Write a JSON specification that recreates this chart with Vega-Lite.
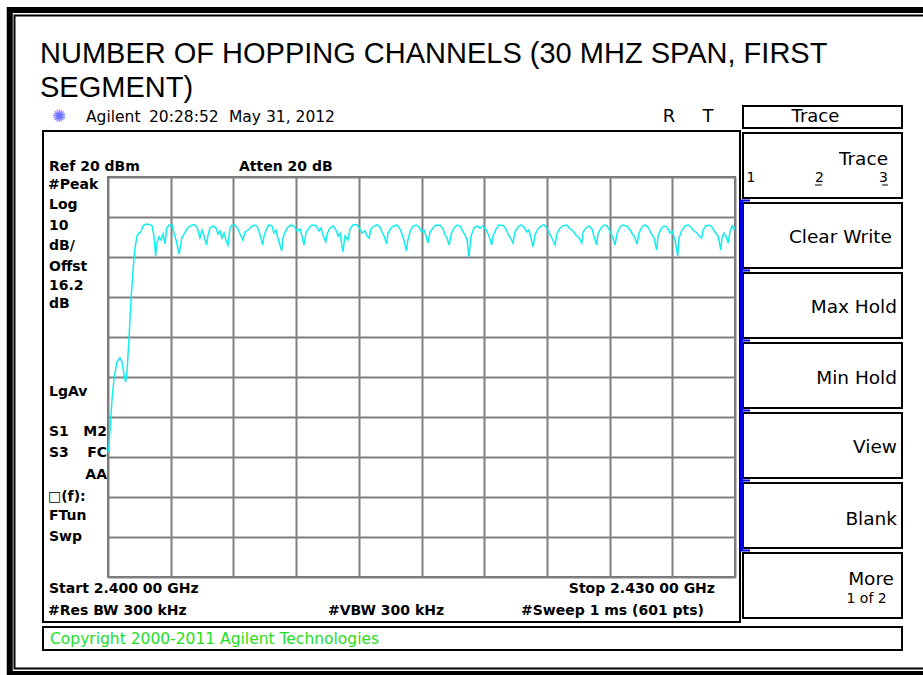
{
  "$schema": "https://vega.github.io/schema/vega-lite/v6.json",
  "width": 627,
  "height": 400,
  "autosize": {"type": "none"},
  "padding": {"left": 108, "top": 177, "right": 188, "bottom": 98},
  "background": "white",
  "config": {
    "view": {"stroke": "#6e6e6e", "strokeWidth": 2}
  },
  "encoding": {
    "x": {
      "field": "f",
      "type": "quantitative",
      "scale": {"domain": [2400, 2430], "nice": false, "zero": false},
      "axis": {
        "values": [2400, 2403, 2406, 2409, 2412, 2415, 2418, 2421, 2424, 2427, 2430],
        "grid": true, "gridColor": "#808080", "gridWidth": 2, "gridOpacity": 1,
        "labels": false, "ticks": false, "domain": false, "title": null
      }
    },
    "y": {
      "field": "db",
      "type": "quantitative",
      "scale": {"domain": [-80, 20], "nice": false, "zero": false},
      "axis": {
        "values": [-80, -70, -60, -50, -40, -30, -20, -10, 0, 10, 20],
        "grid": true, "gridColor": "#808080", "gridWidth": 2, "gridOpacity": 1,
        "labels": false, "ticks": false, "domain": false, "title": null
      }
    }
  },
  "layer": [
    {
      "data": {"values": [{"f": 2395.299, "f2": 2440.77, "db": 61.75, "db2": -104.25}]},
      "mark": {"type": "rect", "fill": "transparent", "stroke": "#000000", "strokeWidth": 6},
      "encoding": {"x2": {"field": "f2"}, "y2": {"field": "db2"}}
    },
    {
      "data": {"values": [{"f": 2395.526, "f2": 2440.77, "db": 60.375, "db2": -102.875}]},
      "mark": {"type": "rect", "fill": "transparent", "stroke": "#000000", "strokeWidth": 2},
      "encoding": {"x2": {"field": "f2"}, "y2": {"field": "db2"}}
    },
    {
      "data": {"values": [
        {"t": "NUMBER OF HOPPING CHANNELS (30 MHZ SPAN, FIRST", "f": 2396.746, "db": 48.5},
        {"t": "SEGMENT)", "f": 2396.746, "db": 40.0}
      ]},
      "mark": {"type": "text", "font": "Liberation Sans", "fontSize": 29, "align": "left", "baseline": "alphabetic", "color": "#000000"},
      "encoding": {"text": {"field": "t"}}
    },
    {
      "data": {"values": [
        {"box": "screen", "f": 2396.89, "f2": 2430.239, "db": 31.5, "db2": -91.25},
        {"box": "copyright", "f": 2396.89, "f2": 2437.99, "db": -92.5, "db2": -98.25},
        {"box": "menu title", "f": 2430.383, "f2": 2437.99, "db": 37.75, "db2": 32.25},
        {"box": "Trace 1 2 3", "f": 2430.383, "f2": 2437.99, "db": 31.0, "db2": 14.75},
        {"box": "Clear Write", "f": 2430.383, "f2": 2437.99, "db": 13.5, "db2": -2.75},
        {"box": "Max Hold", "f": 2430.383, "f2": 2437.99, "db": -4.0, "db2": -20.25},
        {"box": "Min Hold", "f": 2430.383, "f2": 2437.99, "db": -21.5, "db2": -37.75},
        {"box": "View", "f": 2430.383, "f2": 2437.99, "db": -39.0, "db2": -55.25},
        {"box": "Blank", "f": 2430.383, "f2": 2437.99, "db": -56.5, "db2": -72.75},
        {"box": "More", "f": 2430.383, "f2": 2437.99, "db": -74.0, "db2": -90.25}
      ]},
      "mark": {"type": "rect", "fill": "transparent", "stroke": "#000000", "strokeWidth": 2},
      "encoding": {"x2": {"field": "f2"}, "y2": {"field": "db2"}}
    },
    {
      "data": {"values": [{"f": 2430.311, "db": 14.25, "db2": -73.5}]},
      "mark": {"type": "rule", "color": "#0000ee", "strokeWidth": 3},
      "encoding": {"y2": {"field": "db2"}}
    },
    {
      "data": {"values": [
        {"f": 2430.239, "f2": 2430.718, "db": 14.125},
        {"f": 2430.239, "f2": 2430.718, "db": -3.375},
        {"f": 2430.239, "f2": 2430.718, "db": -20.875},
        {"f": 2430.239, "f2": 2430.718, "db": -38.375},
        {"f": 2430.239, "f2": 2430.718, "db": -55.875},
        {"f": 2430.239, "f2": 2430.718, "db": -73.375}
      ]},
      "mark": {"type": "rule", "color": "#0000ee", "strokeWidth": 2},
      "encoding": {"x2": {"field": "f2"}}
    },
    {
      "data": {"values": [
        {"f": 2433.83, "f2": 2434.16, "db": 18.0},
        {"f": 2437.03, "f2": 2437.32, "db": 18.0}
      ]},
      "mark": {"type": "rule", "color": "#000000", "strokeWidth": 1},
      "encoding": {"x2": {"field": "f2"}}
    },
    {
      "data": {"values": [
        {"f": 2400.02, "db": -48.75}, {"f": 2400.10, "db": -43.25}, {"f": 2400.19, "db": -35.75},
        {"f": 2400.29, "db": -30.25}, {"f": 2400.43, "db": -26.25}, {"f": 2400.57, "db": -25.25},
        {"f": 2400.67, "db": -26.25}, {"f": 2400.77, "db": -29.5}, {"f": 2400.84, "db": -31.25},
        {"f": 2400.91, "db": -28.75}, {"f": 2401.00, "db": -20.75}, {"f": 2401.10, "db": -10.75},
        {"f": 2401.20, "db": -3.25}, {"f": 2401.29, "db": 2.25}, {"f": 2401.39, "db": 5.25},
        {"f": 2401.48, "db": 6.0}, {"f": 2401.58, "db": 6.25}, {"f": 2401.67, "db": 7.75},
        {"f": 2401.82, "db": 8.25}, {"f": 2402.01, "db": 8.1}, {"f": 2402.11, "db": 7.75},
        {"f": 2402.20, "db": 5.25}, {"f": 2402.28, "db": 0.25}, {"f": 2402.34, "db": 3.5},
        {"f": 2402.44, "db": 5.0}, {"f": 2402.54, "db": 4.25}, {"f": 2402.63, "db": 5.75},
        {"f": 2402.73, "db": 3.25}, {"f": 2402.81, "db": 7.25}, {"f": 2402.92, "db": 8.0},
        {"f": 2403.06, "db": 8.0}, {"f": 2403.17, "db": 5.75}, {"f": 2403.28, "db": 3.75},
        {"f": 2403.40, "db": 0.75}, {"f": 2403.53, "db": 4.75}, {"f": 2403.64, "db": 5.75},
        {"f": 2403.78, "db": 7.0}, {"f": 2403.92, "db": 7.75}, {"f": 2404.11, "db": 8.1},
        {"f": 2404.26, "db": 7.5}, {"f": 2404.40, "db": 4.75}, {"f": 2404.50, "db": 6.75},
        {"f": 2404.59, "db": 5.25}, {"f": 2404.72, "db": 3.0}, {"f": 2404.78, "db": 5.25},
        {"f": 2404.88, "db": 7.25}, {"f": 2405.02, "db": 7.75}, {"f": 2405.17, "db": 7.25},
        {"f": 2405.26, "db": 5.75}, {"f": 2405.36, "db": 6.5}, {"f": 2405.45, "db": 4.75},
        {"f": 2405.55, "db": 6.0}, {"f": 2405.64, "db": 4.25}, {"f": 2405.74, "db": 3.0},
        {"f": 2405.84, "db": 7.25}, {"f": 2405.93, "db": 8.0}, {"f": 2406.08, "db": 8.0},
        {"f": 2406.22, "db": 7.0}, {"f": 2406.32, "db": 5.75}, {"f": 2406.45, "db": 4.25},
        {"f": 2406.56, "db": 6.25}, {"f": 2406.70, "db": 6.75}, {"f": 2406.84, "db": 7.5},
        {"f": 2406.99, "db": 8.0}, {"f": 2407.13, "db": 7.75}, {"f": 2407.23, "db": 6.25},
        {"f": 2407.32, "db": 4.75}, {"f": 2407.40, "db": 3.0}, {"f": 2407.47, "db": 5.25},
        {"f": 2407.56, "db": 6.75}, {"f": 2407.70, "db": 8.0}, {"f": 2407.85, "db": 7.75},
        {"f": 2407.94, "db": 6.0}, {"f": 2408.04, "db": 6.75}, {"f": 2408.13, "db": 4.75},
        {"f": 2408.31, "db": 1.5}, {"f": 2408.37, "db": 4.75}, {"f": 2408.47, "db": 6.25},
        {"f": 2408.61, "db": 7.5}, {"f": 2408.76, "db": 8.0}, {"f": 2408.90, "db": 7.75},
        {"f": 2409.04, "db": 6.5}, {"f": 2409.19, "db": 7.0}, {"f": 2409.28, "db": 5.25},
        {"f": 2409.38, "db": 3.0}, {"f": 2409.47, "db": 6.0}, {"f": 2409.62, "db": 7.25},
        {"f": 2409.76, "db": 8.0}, {"f": 2409.95, "db": 7.9}, {"f": 2410.10, "db": 6.5},
        {"f": 2410.19, "db": 7.25}, {"f": 2410.29, "db": 5.5}, {"f": 2410.42, "db": 3.75},
        {"f": 2410.48, "db": 5.75}, {"f": 2410.62, "db": 7.25}, {"f": 2410.77, "db": 7.75},
        {"f": 2410.91, "db": 6.75}, {"f": 2411.01, "db": 5.25}, {"f": 2411.10, "db": 6.0},
        {"f": 2411.24, "db": 1.25}, {"f": 2411.34, "db": 5.25}, {"f": 2411.48, "db": 4.25},
        {"f": 2411.58, "db": 7.0}, {"f": 2411.72, "db": 8.0}, {"f": 2411.91, "db": 8.1},
        {"f": 2412.06, "db": 7.0}, {"f": 2412.15, "db": 6.0}, {"f": 2412.30, "db": 6.5},
        {"f": 2412.39, "db": 5.25}, {"f": 2412.49, "db": 4.75}, {"f": 2412.58, "db": 7.0},
        {"f": 2412.73, "db": 7.75}, {"f": 2412.87, "db": 8.1}, {"f": 2413.01, "db": 7.5},
        {"f": 2413.11, "db": 6.25}, {"f": 2413.21, "db": 5.25}, {"f": 2413.33, "db": 3.25},
        {"f": 2413.40, "db": 6.0}, {"f": 2413.54, "db": 7.25}, {"f": 2413.68, "db": 7.75},
        {"f": 2413.83, "db": 8.0}, {"f": 2413.97, "db": 7.0}, {"f": 2414.07, "db": 5.75},
        {"f": 2414.16, "db": 4.25}, {"f": 2414.28, "db": 1.5}, {"f": 2414.35, "db": 4.25},
        {"f": 2414.45, "db": 6.25}, {"f": 2414.59, "db": 7.75}, {"f": 2414.74, "db": 8.0},
        {"f": 2414.88, "db": 7.5}, {"f": 2415.02, "db": 6.25}, {"f": 2415.12, "db": 6.75},
        {"f": 2415.22, "db": 5.25}, {"f": 2415.31, "db": 3.5}, {"f": 2415.41, "db": 6.25},
        {"f": 2415.55, "db": 7.25}, {"f": 2415.69, "db": 8.0}, {"f": 2415.89, "db": 7.9},
        {"f": 2416.03, "db": 7.0}, {"f": 2416.13, "db": 5.5}, {"f": 2416.22, "db": 4.75},
        {"f": 2416.32, "db": 3.0}, {"f": 2416.42, "db": 5.75}, {"f": 2416.56, "db": 7.25},
        {"f": 2416.70, "db": 8.0}, {"f": 2416.85, "db": 7.75}, {"f": 2416.94, "db": 6.75},
        {"f": 2417.08, "db": 5.5}, {"f": 2417.18, "db": 4.25}, {"f": 2417.27, "db": 0.0},
        {"f": 2417.37, "db": 5.25}, {"f": 2417.51, "db": 7.25}, {"f": 2417.66, "db": 7.75},
        {"f": 2417.80, "db": 7.25}, {"f": 2417.94, "db": 7.75}, {"f": 2418.09, "db": 6.75},
        {"f": 2418.23, "db": 5.25}, {"f": 2418.36, "db": 3.0}, {"f": 2418.42, "db": 5.25},
        {"f": 2418.57, "db": 7.0}, {"f": 2418.71, "db": 8.0}, {"f": 2418.90, "db": 7.9},
        {"f": 2419.04, "db": 7.0}, {"f": 2419.14, "db": 5.75}, {"f": 2419.23, "db": 5.0},
        {"f": 2419.38, "db": 3.5}, {"f": 2419.47, "db": 6.25}, {"f": 2419.62, "db": 7.5},
        {"f": 2419.76, "db": 8.0}, {"f": 2419.90, "db": 7.5}, {"f": 2420.05, "db": 6.25},
        {"f": 2420.14, "db": 6.75}, {"f": 2420.24, "db": 4.75}, {"f": 2420.34, "db": 2.5},
        {"f": 2420.43, "db": 5.5}, {"f": 2420.57, "db": 7.0}, {"f": 2420.72, "db": 7.75},
        {"f": 2420.86, "db": 8.1}, {"f": 2421.00, "db": 7.25}, {"f": 2421.10, "db": 6.0},
        {"f": 2421.24, "db": 4.75}, {"f": 2421.39, "db": 3.0}, {"f": 2421.48, "db": 5.75},
        {"f": 2421.63, "db": 7.25}, {"f": 2421.77, "db": 7.75}, {"f": 2421.96, "db": 8.0},
        {"f": 2422.11, "db": 7.0}, {"f": 2422.25, "db": 6.5}, {"f": 2422.39, "db": 5.5},
        {"f": 2422.54, "db": 4.75}, {"f": 2422.67, "db": 3.5}, {"f": 2422.73, "db": 6.25},
        {"f": 2422.87, "db": 7.25}, {"f": 2423.01, "db": 7.75}, {"f": 2423.16, "db": 7.0},
        {"f": 2423.25, "db": 5.25}, {"f": 2423.38, "db": 3.0}, {"f": 2423.44, "db": 5.75},
        {"f": 2423.59, "db": 7.25}, {"f": 2423.73, "db": 8.0}, {"f": 2423.88, "db": 7.75},
        {"f": 2424.02, "db": 6.5}, {"f": 2424.12, "db": 5.25}, {"f": 2424.26, "db": 3.0},
        {"f": 2424.35, "db": 5.75}, {"f": 2424.50, "db": 7.5}, {"f": 2424.64, "db": 8.0},
        {"f": 2424.83, "db": 7.75}, {"f": 2424.98, "db": 6.75}, {"f": 2425.12, "db": 5.5},
        {"f": 2425.22, "db": 4.75}, {"f": 2425.31, "db": 3.25}, {"f": 2425.41, "db": 6.0},
        {"f": 2425.55, "db": 7.5}, {"f": 2425.69, "db": 8.0}, {"f": 2425.84, "db": 7.5},
        {"f": 2425.98, "db": 6.0}, {"f": 2426.13, "db": 4.75}, {"f": 2426.25, "db": 1.75},
        {"f": 2426.32, "db": 5.25}, {"f": 2426.46, "db": 7.0}, {"f": 2426.60, "db": 7.75},
        {"f": 2426.75, "db": 7.5}, {"f": 2426.89, "db": 6.0}, {"f": 2426.99, "db": 6.5},
        {"f": 2427.13, "db": 4.25}, {"f": 2427.26, "db": 0.25}, {"f": 2427.32, "db": 4.75},
        {"f": 2427.46, "db": 6.75}, {"f": 2427.61, "db": 7.75}, {"f": 2427.75, "db": 8.0},
        {"f": 2427.89, "db": 7.5}, {"f": 2428.04, "db": 6.5}, {"f": 2428.18, "db": 6.0},
        {"f": 2428.28, "db": 5.25}, {"f": 2428.41, "db": 4.75}, {"f": 2428.47, "db": 6.75},
        {"f": 2428.61, "db": 7.75}, {"f": 2428.76, "db": 8.0}, {"f": 2428.90, "db": 7.5},
        {"f": 2429.04, "db": 6.25}, {"f": 2429.19, "db": 5.25}, {"f": 2429.32, "db": 1.75},
        {"f": 2429.38, "db": 4.75}, {"f": 2429.47, "db": 6.0}, {"f": 2429.57, "db": 5.25},
        {"f": 2429.67, "db": 3.5}, {"f": 2429.76, "db": 6.25}, {"f": 2429.86, "db": 7.75},
        {"f": 2429.95, "db": 7.0}, {"f": 2430.0, "db": 7.5}
      ]},
      "mark": {"type": "line", "color": "#11eeee", "strokeWidth": 1.5}
    },
    {
      "data": {"values": [
        {"t": "Ref 20 dBm", "f": 2397.177, "db": 22.625},
        {"t": "Atten 20 dB", "f": 2406.268, "db": 22.625},
        {"t": "#Peak", "f": 2397.129, "db": 18.0},
        {"t": "Log", "f": 2397.177, "db": 13.0},
        {"t": "10", "f": 2397.177, "db": 7.8},
        {"t": "dB/", "f": 2397.177, "db": 2.8},
        {"t": "Offst", "f": 2397.177, "db": -2.5},
        {"t": "16.2", "f": 2397.177, "db": -7.25},
        {"t": "dB", "f": 2397.177, "db": -11.75},
        {"t": "LgAv", "f": 2397.177, "db": -33.7},
        {"t": "S1", "f": 2397.177, "db": -43.75},
        {"t": "S3", "f": 2397.177, "db": -49.0},
        {"t": "□(f):", "f": 2397.129, "db": -59.9},
        {"t": "FTun", "f": 2397.177, "db": -64.75},
        {"t": "Swp", "f": 2397.177, "db": -69.9},
        {"t": "Start 2.400 00 GHz", "f": 2397.177, "db": -83.0},
        {"t": "#Res BW 300 kHz", "f": 2397.129, "db": -88.4},
        {"t": "#VBW 300 kHz", "f": 2410.526, "db": -88.4},
        {"t": "#Sweep 1 ms (601 pts)", "f": 2419.761, "db": -88.4}
      ]},
      "mark": {"type": "text", "font": "DejaVu Sans", "fontWeight": "bold", "fontSize": 14, "align": "left", "baseline": "middle", "color": "#000000"},
      "encoding": {"text": {"field": "t"}}
    },
    {
      "data": {"values": [
        {"t": "M2", "f": 2399.952, "db": -43.75},
        {"t": "FC", "f": 2399.952, "db": -49.0},
        {"t": "AA", "f": 2399.952, "db": -54.5},
        {"t": "Stop 2.430 00 GHz", "f": 2429.043, "db": -83.0}
      ]},
      "mark": {"type": "text", "font": "DejaVu Sans", "fontWeight": "bold", "fontSize": 14, "align": "right", "baseline": "middle", "color": "#000000"},
      "encoding": {"text": {"field": "t"}}
    },
    {
      "data": {"values": [
        {"t": "Agilent", "f": 2398.947, "db": 35.0},
        {"t": "20:28:52", "f": 2401.962, "db": 35.0},
        {"t": "May 31, 2012", "f": 2405.789, "db": 35.0}
      ]},
      "mark": {"type": "text", "font": "DejaVu Sans", "fontSize": 15.5, "align": "left", "baseline": "middle", "color": "#000000"},
      "encoding": {"text": {"field": "t"}}
    },
    {
      "data": {"values": [
        {"t": "R", "f": 2426.842, "db": 35.0},
        {"t": "T", "f": 2428.708, "db": 35.0},
        {"t": "Trace", "f": 2433.85, "db": 35.0}
      ]},
      "mark": {"type": "text", "font": "DejaVu Sans", "fontSize": 18, "align": "center", "baseline": "middle", "color": "#000000"},
      "encoding": {"text": {"field": "t"}}
    },
    {
      "data": {"values": [{"t": "✺", "f": 2397.656, "db": 35.0}]},
      "mark": {"type": "text", "font": "DejaVu Sans", "fontSize": 17, "align": "center", "baseline": "middle", "color": "#7070ff"},
      "encoding": {"text": {"field": "t"}}
    },
    {
      "data": {"values": [
        {"t": "Trace", "f": 2437.321, "db": 24.5},
        {"t": "Clear Write", "f": 2437.512, "db": 5.0},
        {"t": "Max Hold", "f": 2437.751, "db": -12.5},
        {"t": "Min Hold", "f": 2437.751, "db": -30.25},
        {"t": "View", "f": 2437.751, "db": -47.5},
        {"t": "Blank", "f": 2437.751, "db": -65.4},
        {"t": "More", "f": 2437.608, "db": -80.5}
      ]},
      "mark": {"type": "text", "font": "DejaVu Sans", "fontSize": 18.5, "align": "right", "baseline": "middle", "color": "#000000"},
      "encoding": {"text": {"field": "t"}}
    },
    {
      "data": {"values": [
        {"t": "1 of 2", "f": 2437.26, "db": -85.5},
        {"t": "3", "f": 2437.32, "db": 19.75}
      ]},
      "mark": {"type": "text", "font": "DejaVu Sans", "fontSize": 14, "align": "right", "baseline": "middle", "color": "#000000"},
      "encoding": {"text": {"field": "t"}}
    },
    {
      "data": {"values": [
        {"t": "1", "f": 2430.55, "db": 19.75},
        {"t": "2", "f": 2433.83, "db": 19.75}
      ]},
      "mark": {"type": "text", "font": "DejaVu Sans", "fontSize": 14, "align": "left", "baseline": "middle", "color": "#000000"},
      "encoding": {"text": {"field": "t"}}
    },
    {
      "data": {"values": [{"t": "Copyright 2000-2011 Agilent Technologies", "f": 2397.225, "db": -95.5}]},
      "mark": {"type": "text", "font": "DejaVu Sans", "fontSize": 15.5, "align": "left", "baseline": "middle", "color": "#1ee01e"},
      "encoding": {"text": {"field": "t"}}
    }
  ]
}
